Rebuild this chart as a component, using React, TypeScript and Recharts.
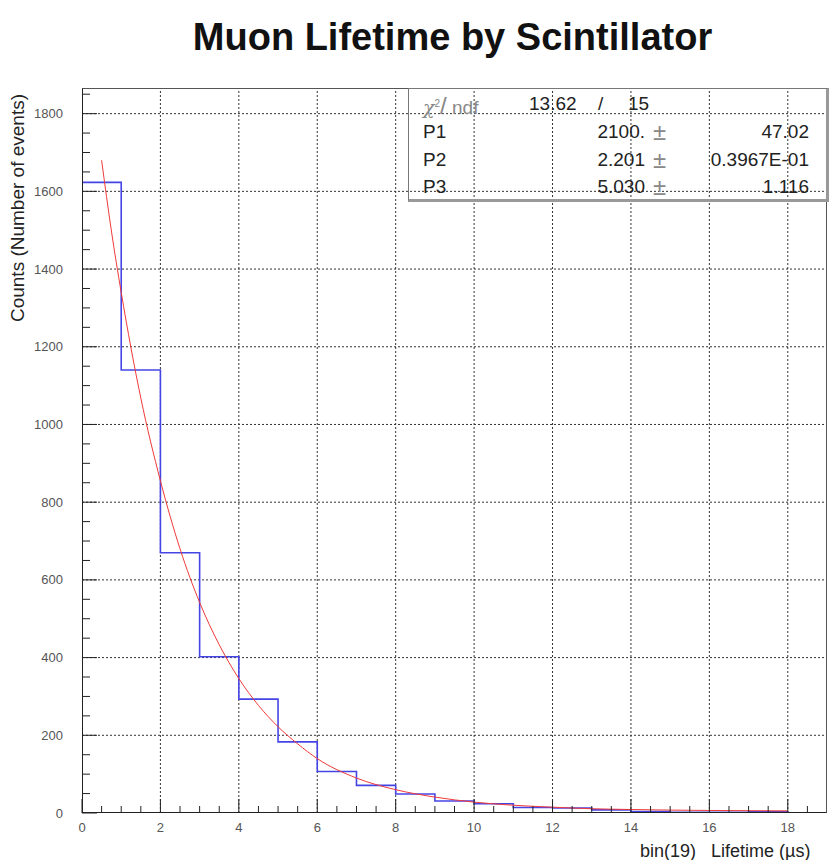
import React from 'react';
import { LineChart, Line, XAxis, YAxis, ReferenceLine } from 'recharts';

// Histogram: bin lower edges (width 1 µs) and counts
const binEdges = [0, 1, 2, 3, 4, 5, 6, 7, 8, 9, 10, 11, 12, 13, 14, 15, 16, 17, 18, 19];
const binCounts = [1623, 1140, 670, 402, 293, 183, 107, 71, 49, 31, 24, 14, 13, 8, 4, 2, 2, 3, 0];

// Fit curve
const fitX = [0.5, 0.75, 1, 1.5, 2, 2.5, 3, 3.5, 4, 4.5, 5, 5.5, 6, 7, 8, 9, 10, 11, 12, 13, 14, 15, 16, 17, 18];
const fitY = [1680, 1498, 1340, 1068, 855, 680, 542, 433, 346, 277, 222, 178, 140, 90, 60, 41, 28, 20, 15, 11, 9, 7.5, 6.5, 6, 5.5];

// Axis ticks
const xTicks = [0, 0.5, 1, 1.5, 2, 2.5, 3, 3.5, 4, 4.5, 5, 5.5, 6, 6.5, 7, 7.5, 8, 8.5, 9, 9.5, 10, 10.5, 11, 11.5, 12, 12.5, 13, 13.5, 14, 14.5, 15, 15.5, 16, 16.5, 17, 17.5, 18, 18.5];
const xLabels = [0, 2, 4, 6, 8, 10, 12, 14, 16, 18];
const yTicks = [0, 50, 100, 150, 200, 250, 300, 350, 400, 450, 500, 550, 600, 650, 700, 750, 800, 850, 900, 950, 1000, 1050, 1100, 1150, 1200, 1250, 1300, 1350, 1400, 1450, 1500, 1550, 1600, 1650, 1700, 1750, 1800, 1850];
const yLabels = [0, 200, 400, 600, 800, 1000, 1200, 1400, 1600, 1800];

// Stats box
const statHeader = { label: 'ndf', chi2: '13.62', ndf: '15' };
const statNames = ['P1', 'P2', 'P3'];
const statValues = ['2100.', '2.201', '5.030'];
const statErrors = ['47.02', '0.3967E-01', '1.116'];

const histData = binEdges.map((e, i) => ({ x: e, y: i < binCounts.length ? binCounts[i] : binCounts[binCounts.length - 1] }));
const fitData = fitX.map((x, i) => ({ x, y: fitY[i] }));

const FONT = '"Liberation Sans", Arial, Helvetica, sans-serif';
const TM = 6;

const XTick = (props: any) => {
  const { x, y, payload } = props;
  const v = payload.value;
  const axisY = y - TM;
  const major = xLabels.includes(v);
  return (
    <g>
      <line x1={x} x2={x} y1={axisY} y2={axisY - (major ? 14 : 7)} stroke="#222" strokeWidth={1} />
      {major && (
        <text x={x} y={axisY + 19} textAnchor="middle" fontSize={13} fill="#555" fontFamily={FONT}>
          {v}
        </text>
      )}
    </g>
  );
};

const YTick = (props: any) => {
  const { x, y, payload } = props;
  const v = payload.value;
  const axisX = x + TM;
  const major = yLabels.includes(v);
  return (
    <g>
      <line x1={axisX} x2={axisX + (major ? 15 : 8)} y1={y} y2={y} stroke="#222" strokeWidth={1} />
      {major && (
        <text x={axisX - 19} y={y + 4.5} textAnchor="end" fontSize={13} fill="#555" fontFamily={FONT}>
          {v}
        </text>
      )}
    </g>
  );
};

const gridX = xLabels.filter((v) => v > 0);
const gridY = yLabels.filter((v) => v > 0);

export default function App() {
  const rowTop = [90, 118, 146, 173];
  return (
    <div style={{ position: 'absolute', left: 0, top: 0, width: 829, height: 860, background: '#fff', fontFamily: FONT, overflow: 'hidden' }}>
      <div style={{ position: 'absolute', left: 80, width: 745, top: 14, textAlign: 'center', fontSize: 38, fontWeight: 'bold', color: '#111', lineHeight: '46px' }}>
        Muon Lifetime by Scintillator
      </div>
      <div
        style={{
          position: 'absolute',
          left: 18 - 150,
          top: 208 - 12,
          width: 300,
          height: 24,
          lineHeight: '24px',
          textAlign: 'center',
          fontSize: 19,
          color: '#222',
          transform: 'rotate(-90deg)',
        }}
      >
        Counts (Number of events)
      </div>
      <LineChart width={829} height={860} margin={{ top: 88, right: 2, bottom: 7, left: 10 }}>
        <XAxis
          type="number"
          dataKey="x"
          domain={[0, 19]}
          ticks={xTicks}
          interval={0}
          tick={<XTick />}
          tickLine={false}
          tickSize={0}
          tickMargin={TM}
          axisLine={false}
          height={40}
          allowDataOverflow
        />
        <YAxis
          type="number"
          dataKey="y"
          domain={[0, 1866]}
          ticks={yTicks}
          interval={0}
          tick={<YTick />}
          tickLine={false}
          tickSize={0}
          tickMargin={TM}
          axisLine={false}
          width={72}
          allowDataOverflow
        />
        {gridX.map((v) => (
          <ReferenceLine key={'gx' + v} x={v} stroke="#333" strokeWidth={1} strokeDasharray="2 2" />
        ))}
        {gridY.map((v) => (
          <ReferenceLine key={'gy' + v} y={v} stroke="#333" strokeWidth={1} strokeDasharray="2 2" />
        ))}
        <Line
          data={histData}
          dataKey="y"
          type="stepAfter"
          stroke="#4545e6"
          strokeWidth={1.6}
          dot={false}
          isAnimationActive={false}
        />
        <Line
          data={fitData}
          dataKey="y"
          type="monotone"
          stroke="#f03a3a"
          strokeWidth={1}
          dot={false}
          isAnimationActive={false}
        />
      </LineChart>
      {/* frame */}
      <div style={{ position: 'absolute', left: 82, top: 88, width: 745, height: 725, borderTop: '1px solid #555', borderRight: '1px solid #555', borderLeft: '1px solid #222', borderBottom: '1px solid #222', boxSizing: 'border-box', pointerEvents: 'none' }} />
      {/* stats box */}
      <div style={{ position: 'absolute', left: 408, top: 88, width: 421, height: 114, borderTop: '1px solid #777', borderLeft: '1px solid #777', borderBottom: '3px solid #999', borderRight: '3px solid #999', boxSizing: 'border-box', pointerEvents: 'none', fontSize: 19, color: '#222' }}>
        <div style={{ position: 'absolute', left: 14, top: rowTop[0] - 88, lineHeight: '26px', color: '#888', fontWeight: 300, whiteSpace: 'pre' }}>
          <span style={{ fontStyle: 'italic', fontFamily: '"DejaVu Serif", serif' }}>χ</span>
          <sup style={{ fontSize: 10 }}>2</sup>
          <span style={{ fontSize: 24 }}>/</span>
          {' ' + statHeader.label}
        </div>
        <div style={{ position: 'absolute', left: 120, top: rowTop[0] - 88, lineHeight: '26px' }}>{statHeader.chi2}</div>
        <div style={{ position: 'absolute', left: 189, top: rowTop[0] - 88, lineHeight: '26px' }}>/</div>
        <div style={{ position: 'absolute', left: 219, top: rowTop[0] - 88, lineHeight: '26px' }}>{statHeader.ndf}</div>
        {statNames.map((n, i) => (
          <React.Fragment key={n}>
            <div style={{ position: 'absolute', left: 14, top: rowTop[i + 1] - 88, lineHeight: '26px' }}>{n}</div>
            <div style={{ position: 'absolute', right: 421 - 240, top: rowTop[i + 1] - 88, lineHeight: '26px', textAlign: 'right' }}>{statValues[i]}</div>
            <div style={{ position: 'absolute', left: 244, top: rowTop[i + 1] - 88, lineHeight: '26px', color: '#888', fontSize: 24 }}>±</div>
            <div style={{ position: 'absolute', right: 421 - 404, top: rowTop[i + 1] - 88, lineHeight: '26px', textAlign: 'right' }}>{statErrors[i]}</div>
          </React.Fragment>
        ))}
      </div>
      <div style={{ position: 'absolute', left: 640, top: 840, fontSize: 18, color: '#222', lineHeight: '22px', whiteSpace: 'pre' }}>
        {'bin(19)   Lifetime (µs)'}
      </div>
    </div>
  );
}
